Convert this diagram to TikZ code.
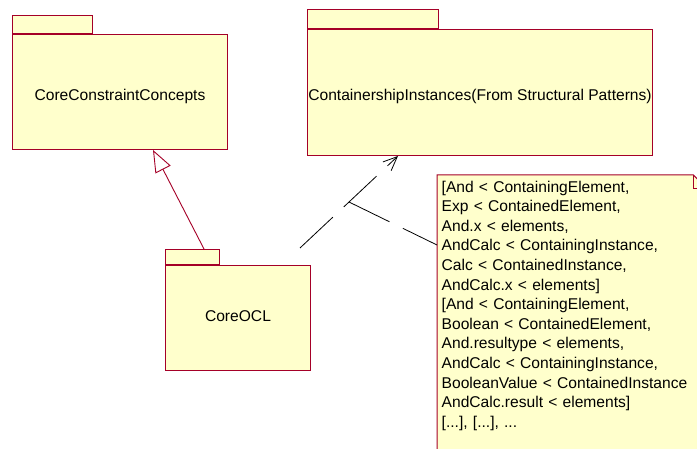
\documentclass[tikz,border=0pt]{standalone}
\usepackage{fontspec}
\setmainfont{Liberation Sans}
\usetikzlibrary{arrows.meta,calc,backgrounds}
\definecolor{pkgfill}{RGB}{255,255,204}
\definecolor{pkgline}{RGB}{165,0,40}

\begin{document}
\begin{tikzpicture}[x=1pt,y=-1pt,
  pkgbody/.style={draw=pkgline, fill=pkgfill, line width=1pt, inner sep=0pt,
    anchor=north west, text depth=0pt,
    font=\fontsize{15.6}{19}\selectfont},
  pkgtab/.style={draw=pkgline, fill=pkgfill, line width=1pt, inner sep=0pt,
    anchor=south west},
  notetxt/.style={anchor=north west, inner xsep=4.5pt, inner ysep=5.5pt,
    text width=261pt, align=left, font=\fontsize{15.6}{19.6}\selectfont},
  noteshape/.style={draw=pkgline, fill=pkgfill, line width=1pt},
  depline/.style={draw=black, line width=0.8pt, dash pattern=on 45pt off 15pt,
    -{Straight Barb[length=14pt,width=12pt]}},
  anchorline/.style={draw=black, line width=0.8pt, dash pattern=on 45pt off 15pt},
  genline/.style={draw=pkgline, line width=0.9pt,
    -{Triangle[open,length=22pt,width=17pt]}}
]
\useasboundingbox (0,0) rectangle (697,449);
\begin{scope}[on background layer]
  \fill[white] (0,0) rectangle (697,449);
\end{scope}

% packages
\node[pkgbody, minimum width=215pt, minimum height=115pt, text height=17pt]
  (ccc) at (12,34) {CoreConstraintConcepts};
\node[pkgtab, minimum width=80pt, minimum height=18pt] (ccctab) at (ccc.north west) {};

\node[pkgbody, minimum width=345pt, minimum height=126pt, text height=17pt]
  (ci) at (307,29) {ContainershipInstances(From Structural Patterns)};
\node[pkgtab, minimum width=131pt, minimum height=19pt] (citab) at (ci.north west) {};

\node[pkgbody, minimum width=145pt, minimum height=105pt, text height=8pt]
  (ocl) at (165,265) {CoreOCL};
\node[pkgtab, minimum width=54pt, minimum height=15pt] (ocltab) at (ocl.north west) {};

% note text; its folded-corner outline goes behind it
\node[notetxt] (note) at (437,175) {%
{[}And < ContainingElement,\\
Exp < ContainedElement,\\
And.x < elements,\\
AndCalc < ContainingInstance,\\
Calc < ContainedInstance,\\
AndCalc.x < elements]\\
{[}And < ContainingElement,\\
Boolean < ContainedElement,\\
And.resultype < elements,\\
AndCalc < ContainingInstance,\\
BooleanValue < ContainedInstance\\
AndCalc.result < elements]\\
{[}...], [...], ...};
\begin{scope}[on background layer]
  \path[noteshape] (note.north west) -- ([xshift=-14pt]note.north east)
    -- ([yshift=-14pt]note.north east) -- ([yshift=-40pt]note.south east)
    -- ([yshift=-40pt]note.south west) -- cycle;
  \draw[pkgline, line width=1pt] ([xshift=-14pt]note.north east)
    -- ([xshift=-14pt,yshift=-14pt]note.north east) -- ([yshift=-14pt]note.north east);
\end{scope}

% generalization CoreOCL -> CoreConstraintConcepts
\draw[genline] ($(ocltab.north west)+(39,0)$) -- ($(ccc.south west)+(141,0)$);

% dependency CoreOCL -> ContainershipInstances, with the note anchored on it
\coordinate (depfrom) at ($(ocl.north east)+(-11,-17)$);
\coordinate (depto) at ($(ci.south west)+(91,0)$);
\draw[depline] (depfrom) -- (depto);
\coordinate (depmid) at ($(depfrom)!0.5!(depto)$);
\draw[anchorline] (depmid) -- ($(note.north west)+(0,70)$);
\end{tikzpicture}
\end{document}
